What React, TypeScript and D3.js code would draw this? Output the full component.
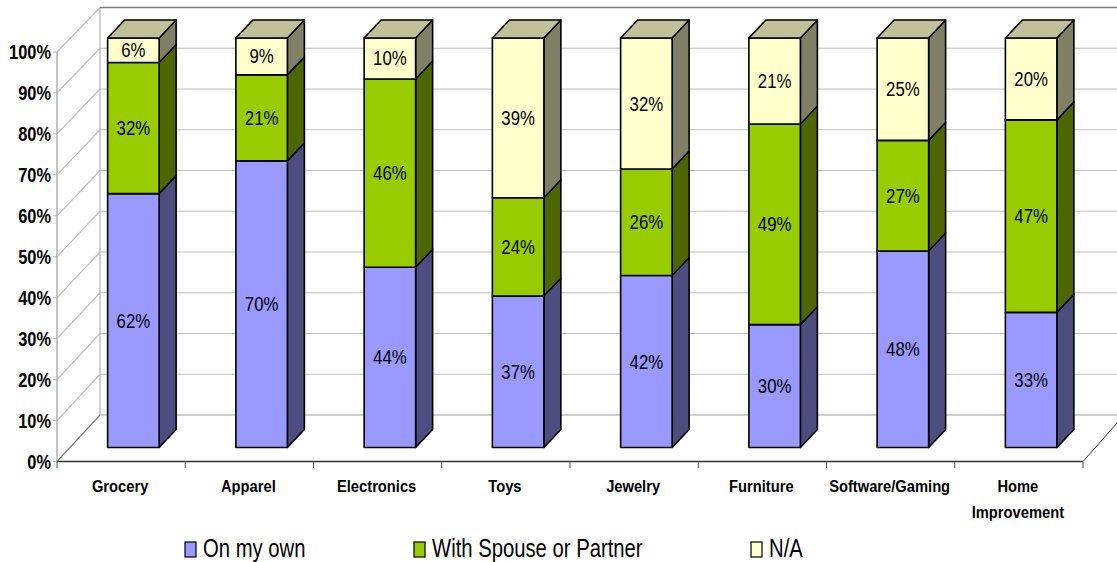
import React from "react";
import * as d3 from "d3";

const categories = ["Grocery", "Apparel", "Electronics", "Toys", "Jewelry", "Furniture", "Software/Gaming", "Home|Improvement"];
const onMyOwn = [62, 70, 44, 37, 42, 30, 48, 33];
const withPartner = [32, 21, 46, 24, 26, 49, 27, 47];
const notAvailable = [6, 9, 10, 39, 32, 21, 25, 20];
const seriesNames = ["On my own", "With Spouse or Partner", "N/A"];
const axisTicks = [0, 10, 20, 30, 40, 50, 60, 70, 80, 90, 100];

const W = 1117;
const H = 562;
const FONT = "'Liberation Sans', Arial, sans-serif";

const palette = [
  { front: "#9999ff", side: "#4d4d80", top: "#7a7ac0" },
  { front: "#99cc00", side: "#4d6600", top: "#7a9f00" },
  { front: "#ffffcc", side: "#808066", top: "#c0c09a" },
];

// Front plane of the floor and the wall behind it
const axisY = d3.scaleLinear().domain([0, 100]).range([461.5, 52]);
const wallY = d3.scaleLinear().domain([0, 100]).range([415, 7.5]);
const left = 57;
const right = 1083;
const wallLeft = 100;
const floorEdgeEndY = 423;

// Bars stand in the middle of the floor depth
const barY = d3.scaleLinear().domain([0, 100]).range([447.5, 38]);
const slot = d3.scaleBand<number>().domain(d3.range(categories.length)).range([left, right]);
const barW = 51.5;
const barShift = -13.5;
const dx = 17;
const dy = -18;

const stack = d3.stack<number>().keys(["0", "1", "2"]).value((i, k) => [onMyOwn, withPartner, notAvailable][+k][i]);
const layers = stack(d3.range(categories.length));

function Squeezed({ x, y, sx, anchor, size, weight, children }: any) {
  return (
    <text
      transform={`translate(${x},${y}) scale(${sx},1)`}
      textAnchor={anchor}
      fontFamily={FONT}
      fontSize={size}
      fontWeight={weight}
      fill="#000"
    >
      {children}
    </text>
  );
}

export default function App() {
  const legendX = [185, 414, 751];
  return (
    <svg
      width={W}
      height={H}
      viewBox={`0 0 ${W} ${H}`}
      style={{ position: "fixed", left: 0, top: 0, background: "#fff", display: "block" }}
    >
      {/* Back wall and side wall */}
      {axisTicks.map((t) => (
        <g key={t} stroke={t === 0 ? "#a0a0a0" : "#c0c0c0"} strokeWidth={1.2} fill="none">
          <line x1={left} y1={axisY(t)} x2={wallLeft} y2={wallY(t)} stroke={t === 0 ? "#808080" : "#c0c0c0"} />
          {t !== 100 && <line x1={wallLeft} y1={wallY(t)} x2={W} y2={wallY(t)} />}
        </g>
      ))}
      <line x1={wallLeft} y1={wallY(0)} x2={wallLeft} y2={wallY(100)} stroke="#b0b0b0" strokeWidth={1.2} />
      <line x1={wallLeft} y1={wallY(100)} x2={W} y2={wallY(100)} stroke="#808080" strokeWidth={1.5} />
      <line x1={left} y1={axisY(0)} x2={left} y2={axisY(100)} stroke="#b0b0b0" strokeWidth={1.5} />
      <line x1={right} y1={axisY(0)} x2={W} y2={floorEdgeEndY} stroke="#333" strokeWidth={1} />

      {/* Value axis */}
      {axisTicks.map((t) => (
        <g key={t}>
          <line x1={53} x2={left} y1={axisY(t)} y2={axisY(t)} stroke="#b0b0b0" strokeWidth={1} />
          <Squeezed x={51} y={axisY(t) + 7} sx={0.78} anchor="end" size={21} weight="bold">
            {t}%
          </Squeezed>
        </g>
      ))}

      {/* Category axis */}
      <line x1={left} x2={right} y1={axisY(0)} y2={axisY(0)} stroke="#333" strokeWidth={1.5} />
      {d3.range(categories.length + 1).map((i) => {
        const x = left + (i * (right - left)) / categories.length;
        return <line key={i} x1={x} x2={x} y1={axisY(0)} y2={468} stroke="#555" strokeWidth={1} />;
      })}
      {categories.map((c, i) => {
        const cx = slot(i)! + slot.bandwidth() / 2 - 1;
        return c.split("|").map((part, j) => (
          <Squeezed key={part} x={cx} y={492 + j * 26} sx={0.92} anchor="middle" size={16} weight="bold">
            {part}
          </Squeezed>
        ));
      })}

      {/* Stacked bars, bottom segment first */}
      {d3.range(categories.length).map((i) => {
        const x0 = slot(i)! + slot.bandwidth() / 2 + barShift;
        return (
          <g key={i} stroke="#000" strokeWidth={1.6} strokeLinejoin="round">
            {layers.map((layer, s) => {
              const [v0, v1] = layer[i];
              const yb = barY(v0);
              const yt = barY(v1);
              const x1 = x0 + barW;
              const isTop = s === layers.length - 1;
              return (
                <g key={s}>
                  <path
                    d={`M${x1},${yb}L${x1 + dx},${yb + dy}L${x1 + dx},${yt + dy}L${x1},${yt}Z`}
                    fill={palette[s].side}
                  />
                  <rect x={x0} y={yt} width={barW} height={yb - yt} fill={palette[s].front} />
                  {isTop && (
                    <path
                      d={`M${x0},${yt}L${x0 + dx},${yt + dy}L${x1 + dx},${yt + dy}L${x1},${yt}Z`}
                      fill={palette[s].top}
                    />
                  )}
                </g>
              );
            })}
            {layers.map((layer, s) => {
              const [v0, v1] = layer[i];
              return (
                <g key={`l${s}`} stroke="none">
                  <Squeezed x={x0 + barW / 2} y={barY((v0 + v1) / 2) + 7} sx={0.8} anchor="middle" size={21} weight="normal">
                    {v1 - v0}%
                  </Squeezed>
                </g>
              );
            })}
          </g>
        );
      })}

      {/* Legend */}
      {seriesNames.map((name, s) => (
        <g key={name}>
          <rect x={legendX[s]} y={542} width={11} height={15} fill={palette[s].front} stroke="#000" strokeWidth={1.2} />
          <Squeezed x={legendX[s] + 18} y={556.5} sx={0.78} anchor="start" size={26} weight="normal">
            {name}
          </Squeezed>
        </g>
      ))}
    </svg>
  );
}
